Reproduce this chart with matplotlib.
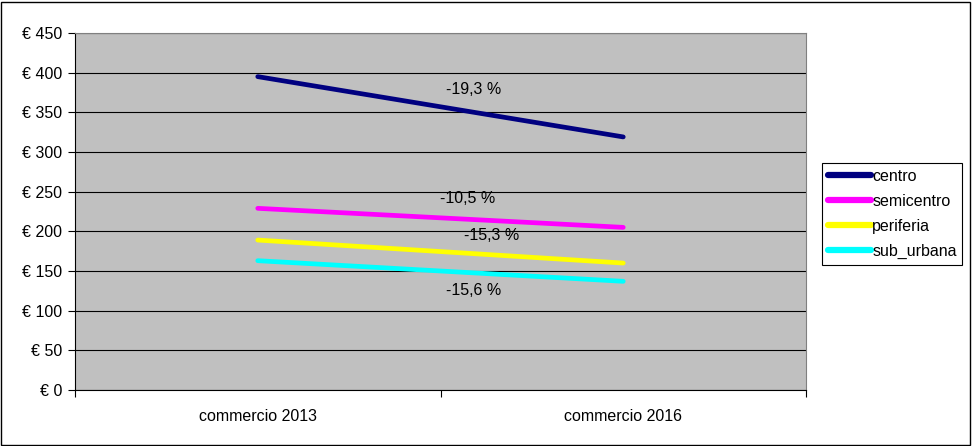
import matplotlib.pyplot as plt
from matplotlib.patches import Rectangle

plt.rcParams['font.family'] = ['Liberation Sans', 'DejaVu Sans']

categories = ["commercio 2013", "commercio 2016"]
series_names = ["centro", "semicentro", "periferia", "sub_urbana"]
centro = [395, 319]
semicentro = [229, 205]
periferia = [189, 160]
sub_urbana = [163, 137]
changes = ["-19,3 %", "-10,5 %", "-15,3 %", "-15,6 %"]
colors = ["#000080", "#FF00FF", "#FFFF00", "#00FFFF"]

fs = 11.5

fig = plt.figure(figsize=(9.72, 4.46), dpi=100)
ax = fig.add_axes([75 / 972, 56 / 446, 731 / 972, 357 / 446])
ax.set_facecolor("#C0C0C0")

xpos = [0.5, 1.5]
for name, vals, col in zip(series_names, [centro, semicentro, periferia, sub_urbana], colors):
    ax.plot(xpos, vals, color=col, lw=3.4, solid_capstyle="round", label=name, zorder=3)

# percentage labels, placed roughly where the original has them
label_pos = [(1.09, 379), (1.075, 242), (1.14, 195), (1.09, 126)]
for txt, (lx, ly) in zip(changes, label_pos):
    ax.text(lx, ly, txt, ha="center", va="center", fontsize=fs, zorder=4)

ax.set_xlim(0, 2)
ax.set_ylim(0, 450)
ax.set_yticks(range(0, 451, 50))
ax.set_yticklabels(["€ %d" % v for v in range(0, 451, 50)], fontsize=fs)
ax.set_xticks([0, 1, 2])
ax.set_xticklabels([])
ax.set_xticks(xpos, minor=True)
ax.set_xticklabels(categories, minor=True, fontsize=fs)
ax.tick_params(axis="x", which="minor", length=0, pad=14)
ax.tick_params(axis="x", which="major", length=5, direction="out")
ax.tick_params(axis="y", length=5, direction="out", pad=4)
ax.yaxis.grid(True, color="black", lw=0.8)
ax.set_axisbelow(True)
ax.spines["top"].set_color("#808080")
ax.spines["right"].set_color("#808080")

leg = ax.legend(loc="upper left", bbox_to_anchor=(822 / 972, 1 - 163 / 446),
                bbox_transform=fig.transFigure, fontsize=fs, frameon=True,
                fancybox=False, edgecolor="black", framealpha=1,
                handlelength=2.7, handletextpad=0.1, labelspacing=0.63,
                borderpad=0.35, borderaxespad=0)
leg.get_frame().set_linewidth(0.8)
for h in leg.get_lines():
    h.set_linewidth(4.5)

fig.patches.append(Rectangle((1 / 972, 1 / 446), 969 / 972, 443 / 446,
                             transform=fig.transFigure, fill=False,
                             edgecolor="black", lw=1))

fig.savefig("out.png", dpi=100)
